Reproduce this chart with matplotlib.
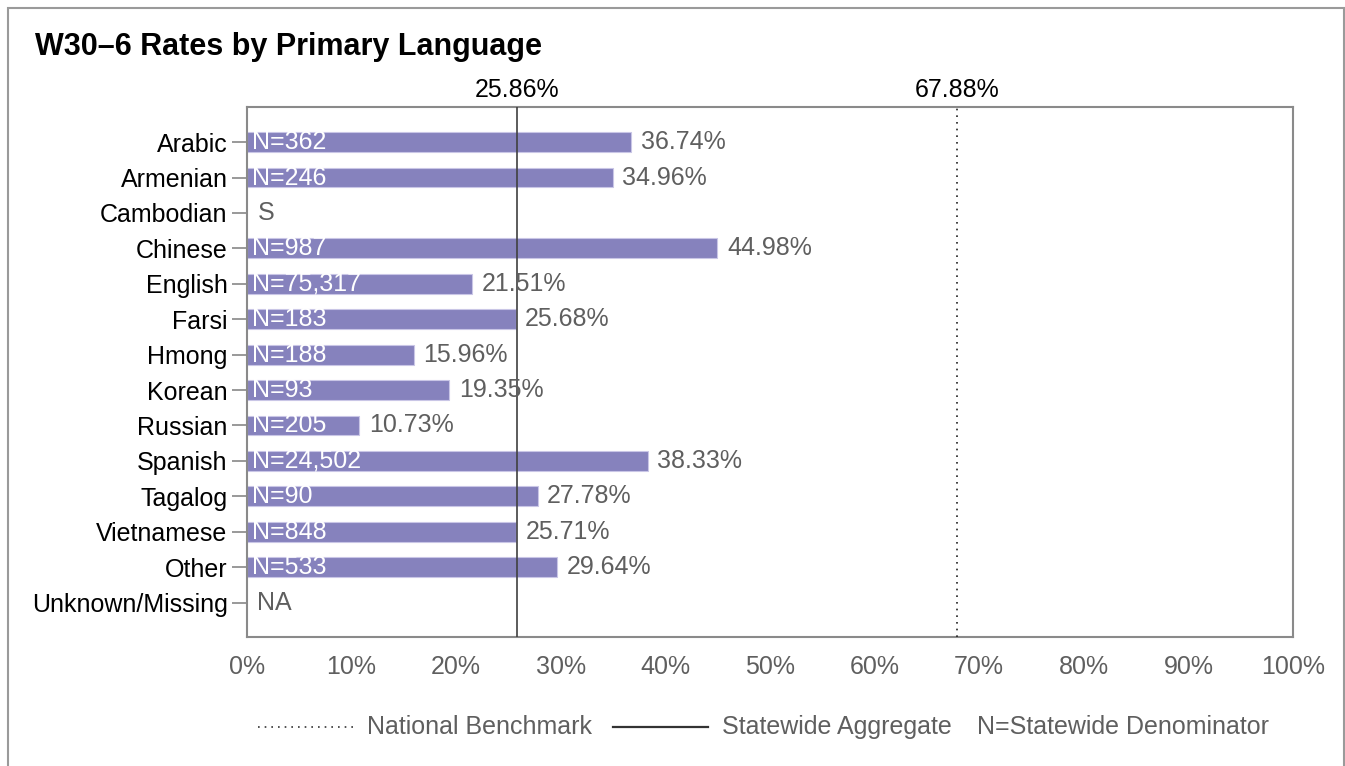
import matplotlib
matplotlib.use("Agg")
import matplotlib.pyplot as plt
from matplotlib.lines import Line2D
from matplotlib.patches import Rectangle

plt.rcParams["font.family"] = ["Liberation Sans", "DejaVu Sans"]

# data
languages = ["Arabic", "Armenian", "Cambodian", "Chinese", "English", "Farsi", "Hmong",
             "Korean", "Russian", "Spanish", "Tagalog", "Vietnamese", "Other", "Unknown/Missing"]
rates = [36.74, 34.96, None, 44.98, 21.51, 25.68, 15.96, 19.35, 10.73, 38.33, 27.78, 25.71, 29.64, None]
denominators = [362, 246, None, 987, 75317, 183, 188, 93, 205, 24502, 90, 848, 533, None]
missing_labels = {"Cambodian": "S", "Unknown/Missing": "NA"}
statewide = 25.86
national = 67.88
xticks = [0, 10, 20, 30, 40, 50, 60, 70, 80, 90, 100]

bar_color = "#8682bd"
gray_text = "#5f5f5f"
fs = 18

fig = plt.figure(figsize=(13.45, 7.66), dpi=100)
ax = fig.add_axes([247 / 1345, 1 - 637 / 766, (1293 - 247) / 1345, (637 - 107) / 766])

ypos = list(range(len(languages)))
for y, lang, r, n in zip(ypos, languages, rates, denominators):
    if r is None:
        ax.text(1.0, y, missing_labels[lang], va="center", ha="left", fontsize=fs, color=gray_text)
        continue
    ax.barh(y, r, height=0.56, color=bar_color, edgecolor="#c9c6e6", linewidth=0.8, zorder=2)
    ax.text(0.45, y, f"N={n:,}", va="center", ha="left", fontsize=fs, color="white", zorder=4)
    ax.text(r + 0.9, y, f"{r:.2f}%", va="center", ha="left", fontsize=fs, color=gray_text, zorder=4)

# reference lines
ax.axvline(statewide, color="#404040", linewidth=1.2, zorder=3)
ax.axvline(national, color="#222222", linewidth=1.2, linestyle=(0, (1, 3)), zorder=3)
ax.text(statewide, -1.12, f"{statewide:.2f}%", ha="center", va="bottom", fontsize=fs, color="black")
ax.text(national, -1.12, f"{national:.2f}%", ha="center", va="bottom", fontsize=fs, color="black")

ax.set_xlim(0, 100)
ax.set_ylim(13.97, -0.99)
ax.set_yticks(ypos)
ax.set_yticklabels(languages, fontsize=fs, color="black")
ax.set_xticks(xticks)
ax.set_xticklabels([f"{t}%" for t in xticks], fontsize=fs, color=gray_text)
ax.tick_params(axis="x", length=0, pad=13)
ax.tick_params(axis="y", length=11, width=1.2, color="#888888", pad=3)
for s in ax.spines.values():
    s.set_color("#8a8a8a")
    s.set_linewidth(1.5)

# title
fig.text(35 / 1345, 1 - 47 / 766, "W30\u20136 Rates by Primary Language", fontsize=22,
         fontweight="bold", ha="left", va="center")

# legend drawn at the bottom
ly = 1 - 727 / 766
fig.add_artist(Line2D([258 / 1345, 353 / 1345], [ly, ly], color="#333333", linewidth=1.2,
                      linestyle=(0, (1, 3))))
fig.text(367 / 1345, ly, "National Benchmark", fontsize=fs, color=gray_text, va="center", ha="left")
fig.add_artist(Line2D([613 / 1345, 708 / 1345], [ly, ly], color="#333333", linewidth=1.6))
fig.text(722 / 1345, ly, "Statewide Aggregate", fontsize=fs, color=gray_text, va="center", ha="left")
fig.text(977 / 1345, ly, "N=Statewide Denominator", fontsize=fs, color=gray_text, va="center", ha="left")

# outer frame
fig.add_artist(Rectangle((8 / 1345, -0.1), (1344 - 8) / 1345, 1.1 - 8 / 766,
                         transform=fig.transFigure, fill=False, edgecolor="#9a9a9a", linewidth=1.5))

fig.savefig("out.png", dpi=100)
